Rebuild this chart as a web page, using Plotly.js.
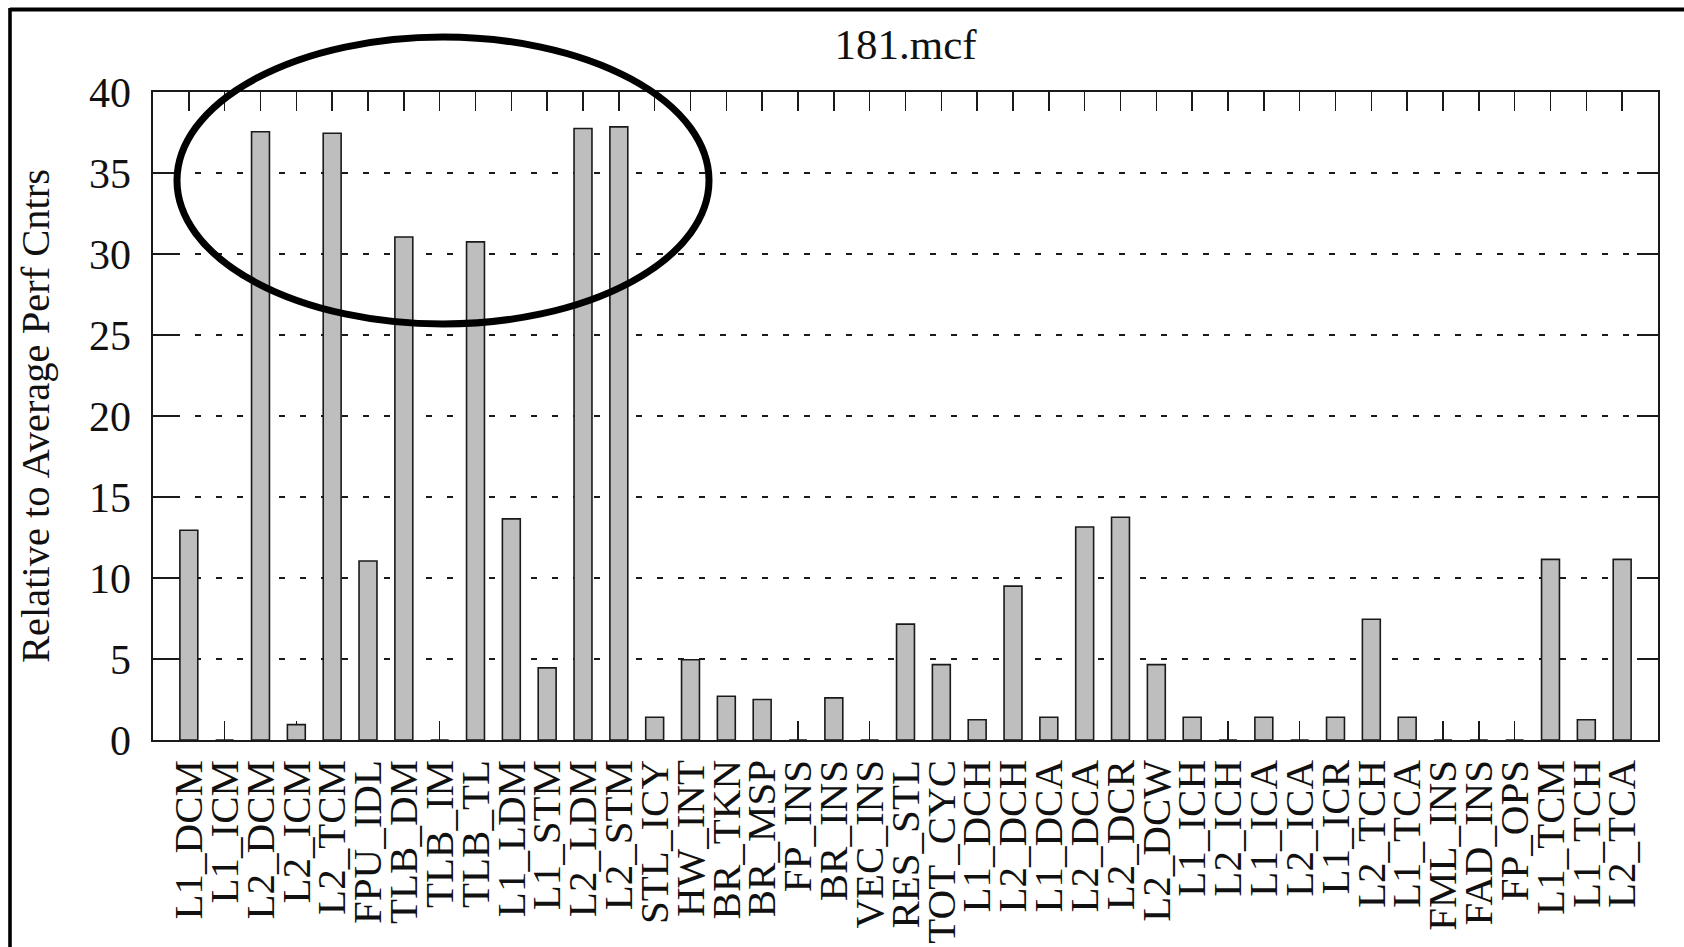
<!DOCTYPE html>
<html>
<head>
<meta charset="utf-8">
<script src="https://cdn.plot.ly/plotly-3.0.1.min.js"></script>
<style>
  html, body { margin: 0; padding: 0; background: #fff; }
  #chart { width: 1684px; height: 947px; }
</style>
</head>
<body>
<div id="chart"></div>
<script>
const chartTitle = "181.mcf";
const yAxisTitle = "Relative to Average Perf Cntrs";
const categories = [
  "L1_DCM", "L1_ICM", "L2_DCM", "L2_ICM", "L2_TCM", "FPU_IDL", "TLB_DM", "TLB_IM",
  "TLB_TL", "L1_LDM", "L1_STM", "L2_LDM", "L2_STM", "STL_ICY", "HW_INT", "BR_TKN",
  "BR_MSP", "FP_INS", "BR_INS", "VEC_INS", "RES_STL", "TOT_CYC", "L1_DCH", "L2_DCH",
  "L1_DCA", "L2_DCA", "L2_DCR", "L2_DCW", "L1_ICH", "L2_ICH", "L1_ICA", "L2_ICA",
  "L1_ICR", "L2_TCH", "L1_TCA", "FML_INS", "FAD_INS", "FP_OPS", "L1_TCM", "L1_TCH",
  "L2_TCA"
];
const values = [
  12.95, 0, 37.55, 0.95, 37.45, 11.05, 31.05, 0,
  30.75, 13.65, 4.45, 37.75, 37.85, 1.4, 4.95, 2.7,
  2.5, 0, 2.6, 0, 7.15, 4.65, 1.25, 9.5,
  1.4, 13.15, 13.75, 4.65, 1.4, 0, 1.4, 0,
  1.4, 7.45, 1.4, 0, 0, 0, 11.15, 1.25,
  11.15
];
const yTickValues = [0, 5, 10, 15, 20, 25, 30, 35, 40];

const serif = "'Liberation Serif', 'DejaVu Serif', serif";

const trace = {
  type: "bar",
  x: categories,
  y: values,
  width: 0.5,
  marker: { color: "#bebebe", line: { color: "#1a1a1a", width: 1.6 } },
  hoverinfo: "x+y"
};

const layout = {
  width: 1684,
  height: 947,
  margin: { l: 153, r: 26, t: 92, b: 207, pad: 0 },
  paper_bgcolor: "#ffffff",
  plot_bgcolor: "#ffffff",
  showlegend: false,
  title: {
    text: chartTitle,
    font: { family: serif, size: 43, color: "#111" },
    x: 0.5, xref: "paper", xanchor: "center",
    y: 1 - 44 / 947, yref: "container", yanchor: "middle"
  },
  xaxis: {
    type: "category",
    range: [-1, 41],
    tickmode: "linear", tick0: 0, dtick: 1,
    ticks: "inside", ticklen: 19, tickwidth: 1.4, tickcolor: "#1a1a1a",
    tickangle: -90,
    tickfont: { family: serif, size: 41, color: "#111" },
    ticklabelstandoff: 2,
    showline: true, linecolor: "#1a1a1a", linewidth: 1.6,
    mirror: "ticks",
    layer: "below traces",
    showgrid: false,
    zeroline: false,
    fixedrange: true
  },
  yaxis: {
    range: [0, 40],
    tickmode: "array", tickvals: yTickValues,
    ticks: "inside", ticklen: 21, tickwidth: 1.4, tickcolor: "#1a1a1a",
    tickfont: { family: serif, size: 42, color: "#111" },
    ticklabelstandoff: 12,
    showline: true, linecolor: "#1a1a1a", linewidth: 1.6,
    mirror: "ticks",
    showgrid: true, gridcolor: "#1a1a1a", gridwidth: 1.2, griddash: "6px,15px",
    zeroline: false,
    title: {
      text: yAxisTitle,
      font: { family: serif, size: 40.5, color: "#111" },
      standoff: 27
    },
    fixedrange: true
  },
  shapes: [
    {
      type: "circle", xref: "paper", yref: "paper",
      x0: (177 - 153) / 1505, x1: (709 - 153) / 1505,
      y0: (740 - 324) / 648, y1: (740 - 37) / 648,
      line: { color: "#000", width: 7 }, fillcolor: "rgba(0,0,0,0)"
    },
    {
      type: "line", xref: "paper", yref: "paper",
      x0: (10 - 153) / 1505, x1: (1700 - 153) / 1505,
      y0: (740 - 9.5) / 648, y1: (740 - 9.5) / 648,
      line: { color: "#000", width: 4 }
    },
    {
      type: "line", xref: "paper", yref: "paper",
      x0: (10 - 153) / 1505, x1: (10 - 153) / 1505,
      y0: (740 - 8) / 648, y1: (740 - 960) / 648,
      line: { color: "#000", width: 3.6 }
    }
  ]
};

Plotly.newPlot("chart", [trace], layout, { displayModeBar: false, staticPlot: true });
</script>
</body>
</html>
